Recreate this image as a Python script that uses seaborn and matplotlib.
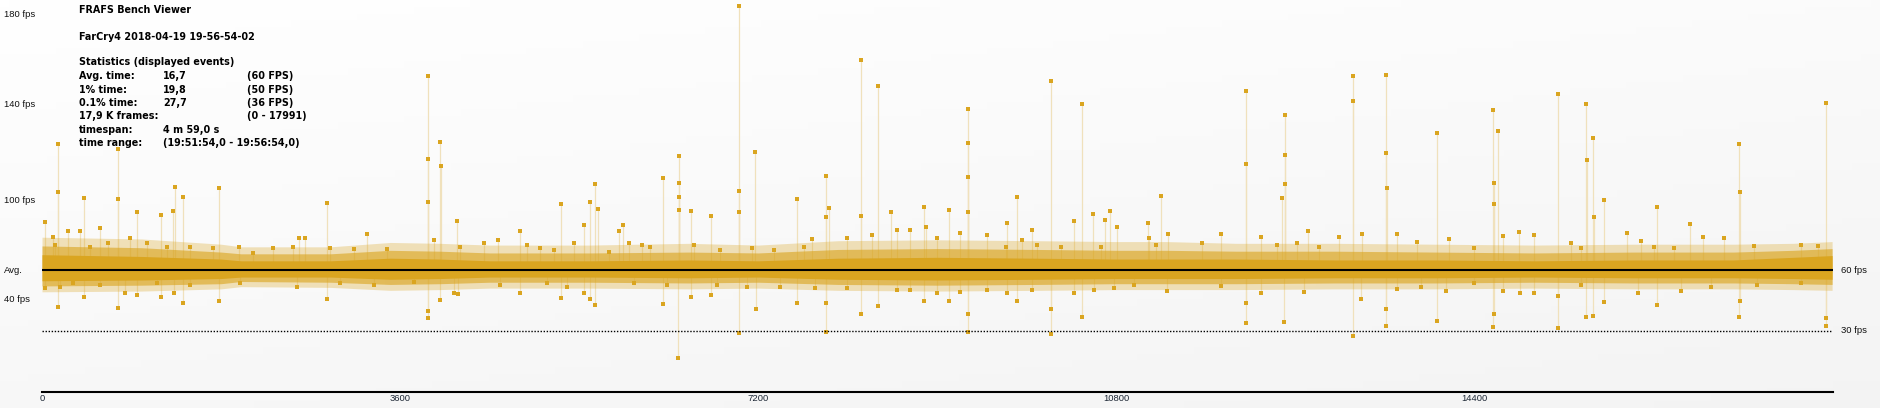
import numpy as np
import matplotlib
matplotlib.use("Agg")
import matplotlib.pyplot as plt
import matplotlib.transforms as mtrans
import seaborn as sns
import pandas as pd

# ---------------- data ----------------
x_ticks = [0, 3600, 7200, 10800, 14400]
left_labels = ["180 fps", "140 fps", "100 fps", "Avg.", "40 fps"]
left_label_fps = [180, 140, 100, 60, 40]
right_labels = ["60 fps", "30 fps"]
right_label_fps = [60, 30]
avg_fps = 60
ref_fps = 30

# dense band envelopes (fps) along the run
band_frame = [0, 1000, 1800, 2000, 2900, 3500, 4000, 4500, 5500, 6500, 7200, 8000,
              9000, 10000, 10800, 11300, 12000, 13000, 14000, 15000, 16000, 17000, 17600, 17991]
core_hi = [69, 68, 66.5, 65.5, 65.5, 67, 66.5, 65.5, 65.5, 66, 65.5, 67, 67.5, 67, 66.5, 66.5,
           66.5, 66, 66, 65.5, 66, 66, 67.5, 68.5]
core_lo = [53, 53.5, 54.5, 55.5, 55.5, 54, 54.5, 55.5, 55.5, 55, 55.5, 54, 53.5, 54, 54.5,
           54.5, 54.5, 55, 55, 55.5, 55, 55, 54.5, 54]
mid_hi = [74, 73, 70.5, 69.5, 69.5, 71.5, 71, 70, 70, 70.5, 70, 72, 72.5, 72, 71.5, 71.5, 71,
          71, 70.5, 70, 70.5, 70.5, 71.5, 72.5]
mid_lo = [49.5, 50, 51, 52.5, 52, 50.5, 51, 52, 52, 51.5, 52, 50.5, 50, 50.5, 51, 51,
          51, 51.5, 51.5, 52, 51.5, 51.5, 51, 50.5]
outer_hi = [79, 78, 75, 73.5, 73.5, 76, 75.5, 74.5, 74.5, 75.5, 74.5, 77, 77.5, 77, 76.5, 76.5,
            75.5, 75.5, 75, 74.5, 75, 75, 75.5, 76.5]
outer_lo = [45.5, 46, 47.5, 49, 48.5, 46.5, 47, 48, 48, 47.5, 48, 46.5, 46, 46.5, 47, 47,
            47, 47.5, 47.5, 48, 47.5, 47.5, 47, 46.5]

# upward spikes (frame, fps)
up_frame = [30, 114, 164, 264, 382, 419, 583, 761, 958, 1194, 1314, 1334, 1421, 1780, 2584, 2644, 2863, 3265,
            3878, 4005, 4173, 4582, 4799, 5216, 5447, 5507, 5553, 5588, 5799, 5839, 6241, 6402, 6523, 6724, 7005, 7169,
            7589, 7739, 7880, 7906, 8232, 8403, 8534, 8594, 8866, 8889, 9117, 9304, 9703, 9801, 9951, 10143, 10370,
            10454, 10561, 10681, 10729, 10799,
            11118, 11242, 11852, 12099, 12465, 12495, 12723, 13175, 13511, 14024,
            14587, 14637, 15237, 15522, 15592, 15703, 16236, 16558, 17060, 17925]
up_fps = [87.9, 79.3, 123.3, 82.6, 82.6, 101.2, 84.5, 121.2, 93.4, 91.7, 94.2, 105.7, 101.6, 105.1, 78.6, 78.6, 98.4, 80.9,
          152.6, 124.4, 88.5, 77.4, 82.4, 97.9, 86.2, 99.2, 106.7, 95.0, 82.4, 86.2, 109.5, 118.3, 93.8, 91.3, 183.7, 120.0,
          100.7, 78.2, 110.3, 95.5, 159.7, 148.2, 93.4, 83.1, 96.1, 85.0, 94.8, 138.1, 87.3, 101.3, 83.1, 150.4, 88.3,
          140.1, 92.2, 88.7, 93.8, 85.0,
          87.3, 102.0, 81.0, 145.9, 101.2, 135.6, 82.4, 152.6, 153.1, 127.9,
          137.6, 128.9, 144.6, 140.1, 125.9, 100.3, 96.5, 86.7, 123.4, 140.3]
# intermediate frames on the tall spikes
upmid_frame = [165, 762, 3879, 3880, 4006, 6403, 6404, 6405, 7006, 7007, 7881, 8233, 9305, 9306, 9307,
               12100, 12496, 12497, 13176, 13512, 13513, 14588, 14589, 15523, 15593, 17061]
upmid_fps = [103.6, 100.6, 117.1, 99.3, 114.4, 107.4, 101.6, 94.8, 104.1, 93.2, 90.7, 91.3, 124.0, 109.7, 93.4,
             115.1, 118.9, 107.0, 141.5, 119.8, 105.3, 107.4, 97.9, 116.9, 90.7, 103.5]

# medium outliers just above the band
medup_frame = [131, 483, 667, 885, 1053, 1254, 1488, 1723, 1981, 2125, 2326, 2527, 2896, 3131, 3466,
               3935, 4203, 4438, 4874, 5008, 5142, 5343, 5695, 5896, 6030, 6114, 6550, 6818, 7136,
               7354, 7656, 8092, 8343, 8728, 8997, 9231, 9499, 9684, 9851, 10002, 10237, 10639,
               11124, 11191, 11315, 11660, 12247, 12414, 12616, 12833, 13035, 13269, 13621, 13822, 14141, 14392,
               14687, 14845, 14995, 15364, 15465, 15934, 16075, 16202, 16403, 16698, 16906, 17208, 17677, 17845]
medup_fps = [74.6, 73.6, 75.5, 78.4, 75.9, 73.2, 73.2, 72.7, 73.6, 69.8, 72.7, 73.2, 72.7, 72.1, 72.1,
             77.4, 73.6, 75.9, 74.6, 72.7, 71.7, 75.5, 70.7, 75.9, 74.6, 73.6, 74.6, 71.7, 72.7,
             71.7, 73.6, 78.4, 80.3, 83.1, 78.4, 81.3, 80.3, 73.6, 77.4, 74.6, 73.6, 73.6,
             78.8, 74.6, 80.7, 75.9, 79.0, 74.4, 75.9, 73.2, 79.0, 80.7, 80.9, 76.5, 77.8, 72.7,
             79.9, 82.2, 80.3, 75.9, 72.7, 81.6, 77.0, 73.6, 72.7, 79.0, 78.4, 74.0, 74.6, 74.0]

# downward dips (frame, fps)
dn_frame = [30, 164, 419, 761, 835, 1194, 1330, 1421, 1780, 2863,
            3878, 4005, 4176, 4799, 5216, 5447, 5507, 5553, 6241, 6388, 6523, 6724, 7005, 7179,
            7589, 7880, 8232, 8403, 8866, 9117, 9304, 9801, 10143, 10454,
            12099, 12485, 13175, 13511, 14024,
            14587, 15237, 15522, 15592, 15703, 16236, 17060, 17928]
dn_fps = [47.9, 37.8, 42.2, 37.3, 44.5, 42.2, 44.5, 38.9, 39.5, 40.5,
          34.3, 40.0, 44.1, 45.0, 41.6, 45.0, 40.9, 38.5, 38.6, 25.6, 42.2, 43.6, 29.6, 37.0,
          39.1, 29.8, 35.3, 38.2, 39.8, 39.5, 29.8, 39.8, 29.5, 34.6,
          32.4, 32.9, 29.1, 31.6, 33.2,
          31.4, 31.0, 34.6, 34.9, 39.4, 38.5, 34.5, 31.6]
dnmid_frame = [3879, 7881, 9305, 10144, 12100, 13512, 14588, 15238, 17061, 17929]
dnmid_fps = [36.5, 38.9, 35.6, 37.2, 39.1, 37.2, 35.3, 42.7, 39.6, 34.3]

# medium outliers just below the band
meddn_frame = [181, 315, 583, 952, 1153, 1488, 1991, 2561, 2997, 3332,
               3734, 4136, 4606, 5075, 5276, 5946, 6282, 6784, 7086,
               7421, 7773, 8092, 8594, 8728, 8997, 9231, 9499, 9700, 9952, 10371, 10572, 10773,
               10973, 11308, 11845, 12247, 12683, 13252, 13621, 13856, 14107, 14392,
               14684, 14855, 14995, 15465, 16045, 16470, 16772, 17241, 17677]
meddn_fps = [49.0, 51.3, 50.2, 43.4, 51.3, 50.2, 51.3, 48.6, 51.3, 50.2,
             52.4, 44.5, 50.2, 51.3, 49.0, 51.3, 50.2, 50.2, 49.0,
             49.0, 47.9, 47.9, 46.8, 46.8, 44.5, 45.6, 46.8, 44.5, 46.8, 44.5, 46.8, 47.9,
             50.2, 46.1, 49.5, 45.0, 45.6, 40.7, 47.2, 49.0, 46.3, 51.3,
             46.3, 45.0, 44.5, 50.2, 45.0, 46.3, 49.0, 50.2, 51.3]

stats_rows = [
    ("Avg. time:", "16,7", "(60 FPS)"),
    ("1% time:", "19,8", "(50 FPS)"),
    ("0.1% time:", "27,7", "(36 FPS)"),
    ("17,9 K frames:", "", "(0 - 17991)"),
    ("timespan:", "4 m 59,0 s", ""),
    ("time range:", "(19:51:54,0 - 19:56:54,0)", ""),
]

# ---------------- style ----------------
sns.set_style("white")
plt.rcParams["font.family"] = ["DejaVu Sans"]

W, H = 1880, 408
fig = plt.figure(figsize=(W / 100, H / 100), dpi=100)

# background gradient
bg = fig.add_axes([0, 0, 1, 1], zorder=-10)
gy, gx = np.mgrid[0:1:60j, 0:1:200j]
grad = 1.0 - 0.045 * (0.65 * gy + 0.35 * gx)
bg.imshow(np.dstack([grad, grad, grad]), aspect="auto", extent=[0, 1, 0, 1], origin="upper")
bg.axis("off")

ax = fig.add_axes([42 / W, 16 / H, 1791 / W, 392 / H])
ax.set_facecolor("none")

# viewer's y-scale (piecewise, matching label placement)
fps_anchor = np.array([0, 20, 30, 40, 60, 100, 140, 180, 300], dtype=float)
pix_anchor = np.array([512.5, 391.5, 331, 300, 270.5, 200.5, 104, 14.5, -254], dtype=float)


def fwd(v):
    return -np.interp(v, fps_anchor, pix_anchor)


def inv(p):
    return np.interp(-np.asarray(p), pix_anchor[::-1], fps_anchor[::-1])


ax.set_yscale("function", functions=(fwd, inv))
ax.set_ylim(19.9, 186.5)
ax.set_xlim(0, 18000)

gold = "#DAA520"
pale = "#F0E1BC"

# band layers
ax.fill_between(band_frame, outer_lo, outer_hi, color=gold, alpha=0.3, lw=0, zorder=2)
ax.fill_between(band_frame, mid_lo, mid_hi, color=gold, alpha=0.62, lw=0, zorder=2)
ax.fill_between(band_frame, core_lo, core_hi, color=gold, alpha=1.0, lw=0, zorder=3)

# spike connecting lines
all_up_f = up_frame + upmid_frame + medup_frame
all_up_v = up_fps + upmid_fps + medup_fps
all_dn_f = dn_frame + dnmid_frame + meddn_frame
all_dn_v = dn_fps + dnmid_fps + meddn_fps
ax.vlines(all_up_f, avg_fps, all_up_v, color=pale, lw=0.9, zorder=1)
ax.vlines(all_dn_f, avg_fps, all_dn_v, color=pale, lw=0.9, zorder=1)

pts = pd.DataFrame({"frame": all_up_f + all_dn_f, "fps": all_up_v + all_dn_v})
sns.scatterplot(data=pts, x="frame", y="fps", ax=ax, marker="s", s=6, color=gold,
                linewidth=0, zorder=4, legend=False)

# reference lines
ax.axhline(avg_fps, color="black", lw=1.5, zorder=5)
ax.axhline(ref_fps, color="black", lw=1.0, ls=(0, (1, 1.2)), zorder=5)

# axes cosmetics
for s in ["top", "left", "right"]:
    ax.spines[s].set_visible(False)
ax.spines["bottom"].set_color("black")
ax.spines["bottom"].set_linewidth(1.5)
ax.set_yticks([])
ax.set_xticks(x_ticks)
ax.set_xticklabels([str(t) for t in x_ticks], fontsize=6.8, color="#1c2634",
                   family="Liberation Sans")
ax.tick_params(axis="x", direction="in", length=3, width=1, pad=1.5, color="black")
ax.set_xlabel("")
ax.set_ylabel("")

# y labels
tl = mtrans.blended_transform_factory(fig.transFigure, ax.transData)
for lab, v in zip(left_labels, left_label_fps):
    fig.text(4 / W, v, lab, transform=tl, fontsize=6.8, family="Liberation Sans",
             va="center", ha="left", color="#111111")
for lab, v in zip(right_labels, right_label_fps):
    fig.text(1841 / W, v, lab, transform=tl, fontsize=6.8, family="Liberation Sans",
             va="center", ha="left", color="#111111")


# stats block
def ftxt(xp, yp, s):
    fig.text(xp / W, 1 - yp / H, s, fontsize=6.9, fontweight="bold", va="center",
             ha="left", color="black")


ftxt(79, 10, "FRAFS Bench Viewer")
ftxt(79, 37, "FarCry4 2018-04-19 19-56-54-02")
ftxt(79, 62, "Statistics (displayed events)")
row_y = [76, 90, 103, 116, 130, 143]
for (a, b, c), yp in zip(stats_rows, row_y):
    ftxt(79, yp, a)
    if b:
        ftxt(163, yp, b)
    if c:
        ftxt(247, yp, c)

fig.savefig("out.png", dpi=100)
